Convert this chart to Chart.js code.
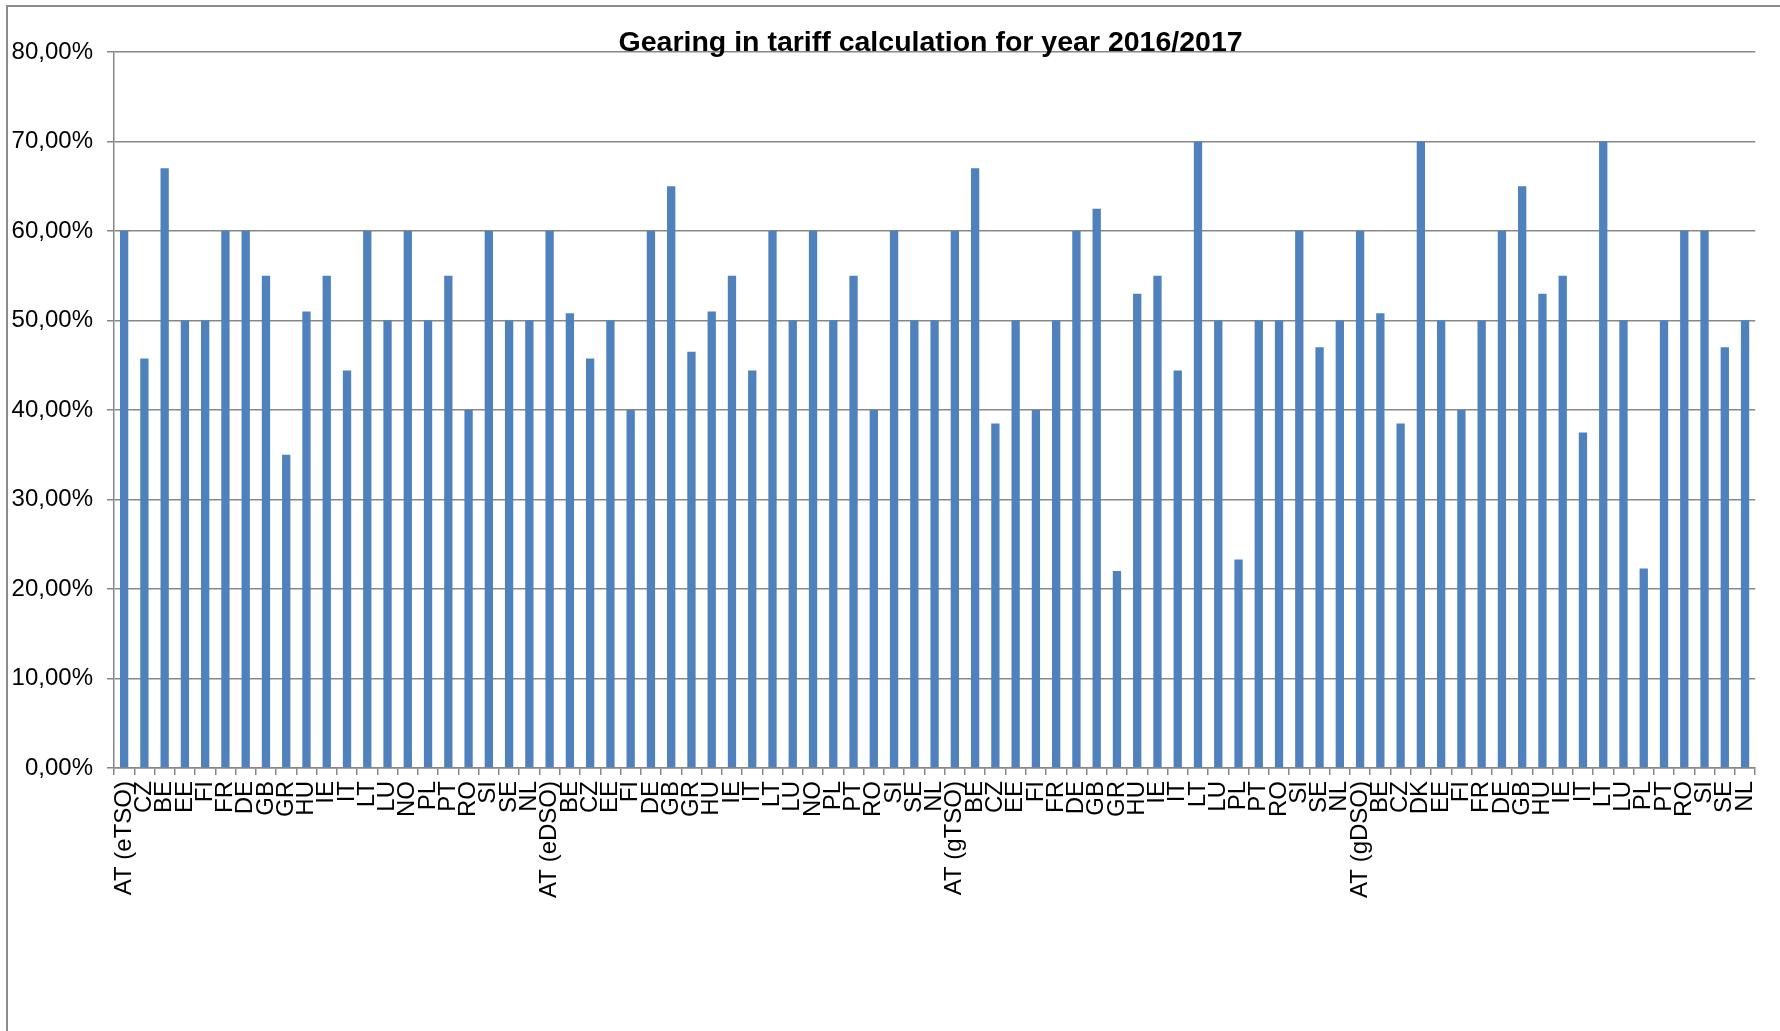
<!DOCTYPE html>
<html>
<head>
<meta charset="utf-8">
<title>Gearing in tariff calculation for year 2016/2017</title>
<script src="https://cdn.jsdelivr.net/npm/chart.js@4.4.1/dist/chart.umd.min.js"></script>
<style>
  html, body { margin: 0; padding: 0; background: #fff; }
  #wrap { width: 1780px; height: 1031px; }
</style>
</head>
<body>
<div id="wrap"><canvas id="gearing" width="1780" height="1031"></canvas></div>
<script>
// operators grouped by sector, gearing in percent
const eTsoLabels = ['AT (eTSO)', 'CZ', 'BE', 'EE', 'FI', 'FR', 'DE', 'GB', 'GR', 'HU', 'IE', 'IT', 'LT', 'LU', 'NO', 'PL', 'PT', 'RO', 'SI', 'SE', 'NL'];
const eTsoValues = [60, 45.75, 67, 50, 50, 60, 60, 55, 35, 51, 55, 44.4, 60, 50, 60, 50, 55, 40, 60, 50, 50];

const eDsoLabels = ['AT (eDSO)', 'BE', 'CZ', 'EE', 'FI', 'DE', 'GB', 'GR', 'HU', 'IE', 'IT', 'LT', 'LU', 'NO', 'PL', 'PT', 'RO', 'SI', 'SE', 'NL'];
const eDsoValues = [60, 50.8, 45.75, 50, 40, 60, 65, 46.5, 51, 55, 44.4, 60, 50, 60, 50, 55, 40, 60, 50, 50];

const gTsoLabels = ['AT (gTSO)', 'BE', 'CZ', 'EE', 'FI', 'FR', 'DE', 'GB', 'GR', 'HU', 'IE', 'IT', 'LT', 'LU', 'PL', 'PT', 'RO', 'SI', 'SE', 'NL'];
const gTsoValues = [60, 67, 38.5, 50, 40, 50, 60, 62.5, 22, 53, 55, 44.4, 70, 50, 23.3, 50, 50, 60, 47, 50];

const gDsoLabels = ['AT (gDSO)', 'BE', 'CZ', 'DK', 'EE', 'FI', 'FR', 'DE', 'GB', 'HU', 'IE', 'IT', 'LT', 'LU', 'PL', 'PT', 'RO', 'SI', 'SE', 'NL'];
const gDsoValues = [60, 50.8, 38.5, 70, 50, 40, 50, 60, 65, 53, 55, 37.5, 70, 50, 22.3, 50, 60, 60, 47, 50];

const yMin = 0;
const yMax = 80;
const yStep = 10;

const chartTitle = 'Gearing in tariff calculation for year 2016/2017';

const labels = eTsoLabels.concat(eDsoLabels, gTsoLabels, gDsoLabels);
const values = eTsoValues.concat(eDsoValues, gTsoValues, gDsoValues);

const GRID = '#878787';
const FONT = '"Liberation Sans", Arial, sans-serif';

// outer frame of the chart object (only left and top edges show)
const framePlugin = {
  id: 'frame',
  beforeDraw(chart) {
    const ctx = chart.ctx;
    ctx.save();
    ctx.strokeStyle = '#8c8c8c';
    ctx.lineWidth = 2;
    ctx.beginPath();
    ctx.moveTo(7, chart.height);
    ctx.lineTo(7, 6);
    ctx.lineTo(chart.width, 6);
    ctx.stroke();
    ctx.restore();
  }
};

// title sits over the top gridline, centred on the plot area
const overlayTitle = {
  id: 'overlayTitle',
  afterDraw(chart) {
    const ctx = chart.ctx;
    const area = chart.chartArea;
    ctx.save();
    ctx.font = 'bold 28.5px ' + FONT;
    ctx.fillStyle = '#000';
    ctx.textAlign = 'center';
    ctx.textBaseline = 'alphabetic';
    ctx.fillText(chartTitle, (area.left + area.right) / 2 - 4, 51);
    ctx.restore();
  }
};

new Chart(document.getElementById('gearing'), {
  type: 'bar',
  data: {
    labels: labels,
    datasets: [{
      label: 'Gearing',
      data: values,
      backgroundColor: '#4F81BD',
      borderWidth: 0,
      barPercentage: 0.41,
      categoryPercentage: 1.0
    }]
  },
  options: {
    responsive: false,
    animation: false,
    layout: { padding: { left: 0, top: 52, right: 23, bottom: 0 } },
    plugins: {
      legend: { display: false },
      title: { display: false },
      tooltip: { enabled: false }
    },
    scales: {
      x: {
        offset: true,
        grid: {
          display: true,
          offset: true,
          drawOnChartArea: false,
          drawTicks: true,
          tickLength: 7,
          color: GRID,
          lineWidth: 1.5
        },
        border: { display: true, color: GRID, width: 1.5 },
        ticks: {
          autoSkip: false,
          maxRotation: 90,
          minRotation: 90,
          padding: 6,
          color: '#000',
          font: { family: FONT, size: 24 }
        },
        afterFit(scale) { scale.height = 263; }
      },
      y: {
        min: yMin,
        max: yMax,
        grid: {
          color: GRID,
          lineWidth: 1.5,
          drawTicks: true,
          tickLength: 7
        },
        border: { display: true, color: GRID, width: 1.5 },
        ticks: {
          stepSize: yStep,
          padding: 14,
          color: '#000',
          font: { family: FONT, size: 24 },
          callback: v => v.toFixed(2).replace('.', ',') + '%'
        },
        afterFit(scale) { scale.width = 114; }
      }
    }
  },
  plugins: [framePlugin, overlayTitle]
});
</script>
</body>
</html>
